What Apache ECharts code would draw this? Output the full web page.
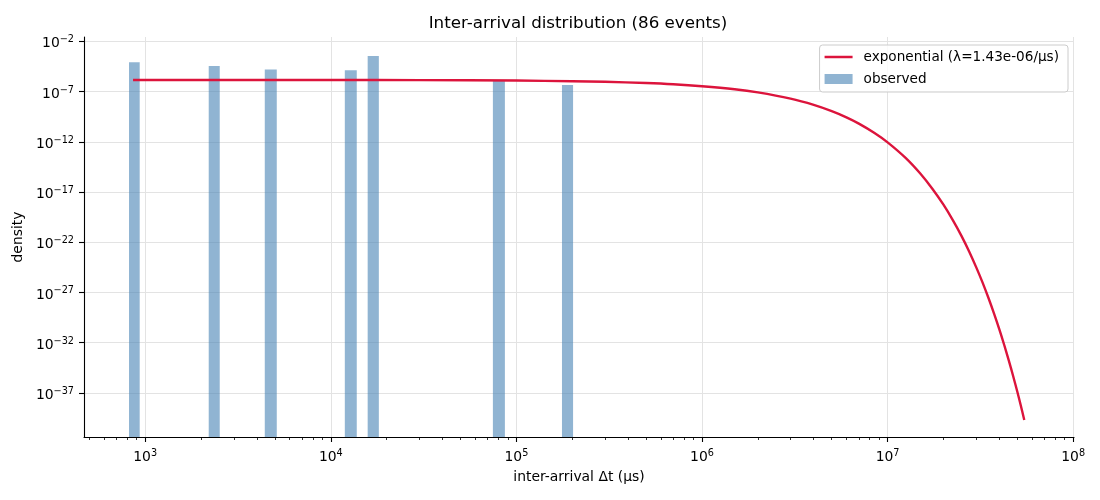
<!DOCTYPE html>
<html>
<head>
<meta charset="utf-8">
<title>Inter-arrival distribution</title>
<script src="https://cdn.jsdelivr.net/npm/echarts@6/dist/echarts.min.js"></script>
<style>
  html, body { margin: 0; padding: 0; background: #fff; }
  #chart { width: 1100px; height: 500px; }
</style>
</head>
<body>
<div id="chart"></div>
<script>
// histogram bins: left / right edge (us) and density
var binLeft = [818, 2199, 4408, 11900, 15800, 74700, 176000];
var binRight = [934, 2521, 5116, 13800, 18150, 86700, 202000];
var binDensity = [8.1e-5, 3.5e-5, 1.6e-5, 1.3e-5, 3.5e-4, 1.2e-6, 4.5e-7];

// points
var curveT = [860, 2000, 1e4, 3e4, 1e5, 2e5, 3e5, 5e5, 7e5, 1e6, 1.5e6, 2e6, 3e6, 4e6, 5e6, 6e6, 7e6, 8.5e6,
  1e7, 1.25e7, 1.5e7, 1.75e7, 2e7, 2.25e7, 2.5e7, 2.75e7, 3e7, 3.25e7, 3.5e7, 3.75e7, 4e7, 4.25e7,
  4.5e7, 4.75e7, 5e7, 5.2e7, 5.45e7];
var curveDensity = [1.43e-6, 1.43e-6, 1.41e-6, 1.37e-6, 1.24e-6, 1.07e-6, 9.3e-7, 7.0e-7, 5.3e-7, 3.4e-7,
  1.7e-7, 8.2e-8, 1.96e-8, 4.7e-9, 1.12e-9, 2.7e-10, 6.4e-11, 7.5e-12, 8.8e-13, 2.5e-14, 6.9e-16,
  1.9e-17, 5.4e-19, 1.5e-20, 4.3e-22, 1.2e-23, 3.3e-25, 9.4e-27, 2.6e-28, 7.3e-30, 2.1e-31, 5.8e-33,
  1.6e-34, 4.5e-36, 1.3e-37, 7.3e-39, 2.0e-40];

// ticks
var xMajorTicks = [1e3, 1e4, 1e5, 1e6, 1e7, 1e8];
var yMajorTicks = [1e-2, 1e-7, 1e-12, 1e-17, 1e-22, 1e-27, 1e-32, 1e-37];
var xMinorTicks = [500, 600, 700, 800, 900];
for (var d = 1e3; d < 1e8; d *= 10) {
  for (var m = 2; m <= 9; m++) xMinorTicks.push(m * d);
}

var LINE_NAME = 'exponential (\u03bb=1.43e-06/\u03bcs)';
var BAR_NAME = 'observed';
var X_MIN = 468, X_MAX = 1.01e8;
var Y_MIN = 4e-42, Y_MAX = 0.027;
var FONT = 'DejaVu Sans';

var barData = binLeft.map(function (x0, i) {
  return [x0, binRight[i], binDensity[i]];
});
var lineData = curveT.map(function (t, i) {
  return [t, curveDensity[i]];
});

function powLabel(v) {
  var e = Math.round(Math.log(v) / Math.LN10);
  return '{b|10}{s|' + String(e).replace('-', '\u2212') + '}';
}
var powRich = {
  b: { fontFamily: FONT, fontSize: 13.9, color: '#000', padding: [2, 0, 0, 0], verticalAlign: 'bottom' },
  s: { fontFamily: FONT, fontSize: 9.7, color: '#000', verticalAlign: 'top' }
};

var chart = echarts.init(document.getElementById('chart'));

var option = {
  animation: false,
  backgroundColor: '#fff',
  title: {
    text: 'Inter-arrival distribution (86 events)',
    left: 578,
    top: 15,
    textAlign: 'center',
    padding: 0,
    textStyle: { fontFamily: FONT, fontSize: 16.7, fontWeight: 'normal', color: '#000' }
  },
  legend: {
    orient: 'vertical',
    right: 32,
    top: 45,
    itemWidth: 28,
    itemHeight: 10,
    itemGap: 8,
    padding: [5, 9, 6, 5],
    backgroundColor: 'rgba(255,255,255,0.8)',
    borderColor: '#cccccc',
    borderWidth: 1,
    borderRadius: 3,
    textStyle: { fontFamily: FONT, fontSize: 13.6, color: '#000', padding: [0, 0, 0, 6] },
    data: [
      { name: LINE_NAME, icon: 'path://M0,0H28V2.5H0Z' },
      { name: BAR_NAME, icon: 'rect' }
    ]
  },
  grid: { left: 84, right: 26, top: 37, bottom: 63 },
  xAxis: [{
    type: 'log',
    min: X_MIN,
    max: X_MAX,
    name: 'inter-arrival \u0394t (\u03bcs)',
    nameLocation: 'middle',
    nameGap: 33,
    nameTextStyle: { fontFamily: FONT, fontSize: 13.9, color: '#000' },
    axisLine: { lineStyle: { color: '#000', width: 1.1 } },
    axisTick: { customValues: xMajorTicks, length: 5, lineStyle: { color: '#000', width: 1.1 } },
    axisLabel: { customValues: xMajorTicks, margin: 11, formatter: powLabel, rich: powRich },
    splitLine: { show: true, lineStyle: { color: '#e3e3e3', width: 1 } }
  }, {
    // minor ticks only
    type: 'log',
    min: X_MIN,
    max: X_MAX,
    position: 'bottom',
    axisLine: { show: false },
    axisLabel: { show: false },
    splitLine: { show: false },
    axisTick: { customValues: xMinorTicks, length: 3, lineStyle: { color: '#000', width: 0.8 } }
  }],
  yAxis: {
    type: 'log',
    min: Y_MIN,
    max: Y_MAX,
    name: 'density',
    nameLocation: 'middle',
    nameGap: 56,
    nameTextStyle: { fontFamily: FONT, fontSize: 13.9, color: '#000' },
    axisLine: { show: true, lineStyle: { color: '#000', width: 1.1 } },
    axisTick: { show: true, customValues: yMajorTicks, length: 5, lineStyle: { color: '#000', width: 1.1 } },
    axisLabel: { customValues: yMajorTicks, margin: 10, padding: [3, 0, 0, 0], formatter: powLabel, rich: powRich },
    splitLine: { show: true, lineStyle: { color: '#e3e3e3', width: 1 } }
  },
  series: [{
    name: BAR_NAME,
    type: 'custom',
    xAxisIndex: 0,
    encode: { x: [0, 1], y: 2 },
    itemStyle: { color: 'rgba(70,130,180,0.6)' },
    z: 2,
    renderItem: function (params, api) {
      var p0 = api.coord([api.value(0), api.value(2)]);
      var p1 = api.coord([api.value(1), Y_MIN]);
      return {
        type: 'rect',
        shape: { x: p0[0], y: p0[1], width: p1[0] - p0[0], height: p1[1] - p0[1] },
        style: api.style()
      };
    },
    data: barData
  }, {
    name: LINE_NAME,
    type: 'line',
    xAxisIndex: 0,
    showSymbol: false,
    symbol: 'none',
    smooth: 0.3,
    z: 3,
    lineStyle: { color: '#dc143c', width: 2.4 },
    itemStyle: { color: '#dc143c' },
    data: lineData
  }]
};

chart.setOption(option);
</script>
</body>
</html>
